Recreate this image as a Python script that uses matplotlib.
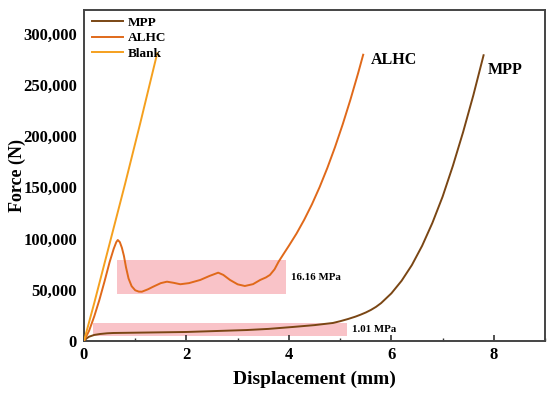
import numpy as np
import matplotlib
matplotlib.use("Agg")
import matplotlib.pyplot as plt
from matplotlib.ticker import FuncFormatter, MultipleLocator

plt.rcParams['font.family'] = 'Liberation Serif'
plt.rcParams['font.weight'] = 'bold'

# curves: displacement (mm), force (N)
mpp_x = [0, 0.05, 0.1, 0.2, 0.31, 0.45, 0.57, 1.0, 2.0, 3.18, 3.6, 4.08, 4.5,
         4.86, 5.0, 5.15, 5.3, 5.4, 5.5, 5.6, 5.7, 5.8, 6.0, 6.2, 6.4, 6.6,
         6.8, 7.0, 7.2, 7.4, 7.6, 7.8]
mpp_y = [0, 2500, 4200, 5900, 6800, 7500, 7800, 8100, 8800, 10700, 11800, 13700,
         15500, 17600, 19300, 21400, 23800, 25700, 27800, 30300, 33300, 37000,
         46500, 58800, 74100, 92900, 115200, 140900, 170900, 203900, 239900,
         279000]

alhc_x = [0, 0.1, 0.2, 0.3, 0.4, 0.5, 0.58, 0.63, 0.66, 0.7, 0.74, 0.78, 0.82,
          0.87, 0.93, 1.0, 1.07, 1.13, 1.25, 1.35, 1.5, 1.62, 1.75, 1.88, 2.05,
          2.27, 2.45, 2.62, 2.72, 2.85, 3.0, 3.14, 3.3, 3.44, 3.55, 3.63, 3.72,
          3.8, 3.9, 4.0, 4.15, 4.3, 4.45, 4.6, 4.75, 4.9, 5.05, 5.2, 5.35, 5.45]
alhc_y = [0, 10000, 24000, 40000, 58000, 77000, 90000, 96500, 98600, 96500,
          91000, 83000, 72000, 61000, 53500, 49500, 48200, 48100, 50500, 53000,
          56500, 57900, 56800, 55400, 56500, 59600, 63500, 66700, 64500, 59600,
          55300, 53700, 55500, 59600, 62000, 64500, 70000, 77500, 85300, 93000,
          105000, 118500, 133500, 150300, 168900, 189300, 211500, 235500, 261300,
          279500]

blank_x = [0, 0.2, 0.5, 0.8, 1.1, 1.43]
blank_y = [0, 37000, 95000, 153000, 213000, 281000]

# plateau bands: (x0, x1, y0, y1, label)
bands = [(0.64, 3.95, 45900, 79100, '16.16 MPa'),
         (0.18, 5.14, 4900, 17600, '1.01 MPa')]

c_mpp = '#7a4614'
c_alhc = '#e0691a'
c_blank = '#f5a01e'

fig = plt.figure(figsize=(5.5, 3.99), dpi=100)
ax = fig.add_axes([0.1527, 0.1454, 0.8383, 0.8296])

for x0, x1, y0, y1, lab in bands:
    ax.fill_between([x0, x1], y0, y1, color='#f9c3c8', lw=0, zorder=1)
ax.text(4.04, 61500, bands[0][4], fontsize=7.8, va='center', ha='left')
ax.text(5.23, 11700, bands[1][4], fontsize=7.8, va='center', ha='left')

ax.plot(mpp_x, mpp_y, color=c_mpp, lw=1.4, label='MPP', zorder=3)
ax.plot(alhc_x, alhc_y, color=c_alhc, lw=1.4, label='ALHC', zorder=3)
ax.plot(blank_x, blank_y, color=c_blank, lw=1.4, label='Blank', zorder=3)

ax.text(5.59, 274400, 'ALHC', fontsize=11.5, va='center', ha='left')
ax.text(7.89, 264600, 'MPP', fontsize=11.5, va='center', ha='left')

ax.set_xlim(0, 9)
ax.set_ylim(0, 323200)
ax.xaxis.set_major_locator(MultipleLocator(2))
ax.xaxis.set_minor_locator(MultipleLocator(1))
ax.yaxis.set_major_locator(MultipleLocator(50000))
ax.yaxis.set_major_formatter(FuncFormatter(lambda v, p: f'{int(v):,}'))
ax.tick_params(axis='x', which='major', direction='in', length=4, width=1.2,
               labelsize=12, pad=4, color='#333333')
ax.tick_params(axis='x', which='minor', direction='in', length=2.5, width=1.0,
               color='#333333')
ax.tick_params(axis='y', length=0, labelsize=12, pad=5)
for s in ax.spines.values():
    s.set_color('#444444')
    s.set_linewidth(1.4)

ax.set_xlabel('Displacement (mm)', fontsize=14, fontweight='bold', labelpad=6)
ax.set_ylabel('Force (N)', fontsize=13, fontweight='bold')
ax.yaxis.set_label_coords(-0.125, 0.5)

ax.legend(loc='upper left', frameon=False, fontsize=9.5, handlelength=2.3,
          handletextpad=0.4, labelspacing=0.25, borderaxespad=0.1,
          bbox_to_anchor=(0.004, 1.0))

fig.savefig('out.png', dpi=100)
